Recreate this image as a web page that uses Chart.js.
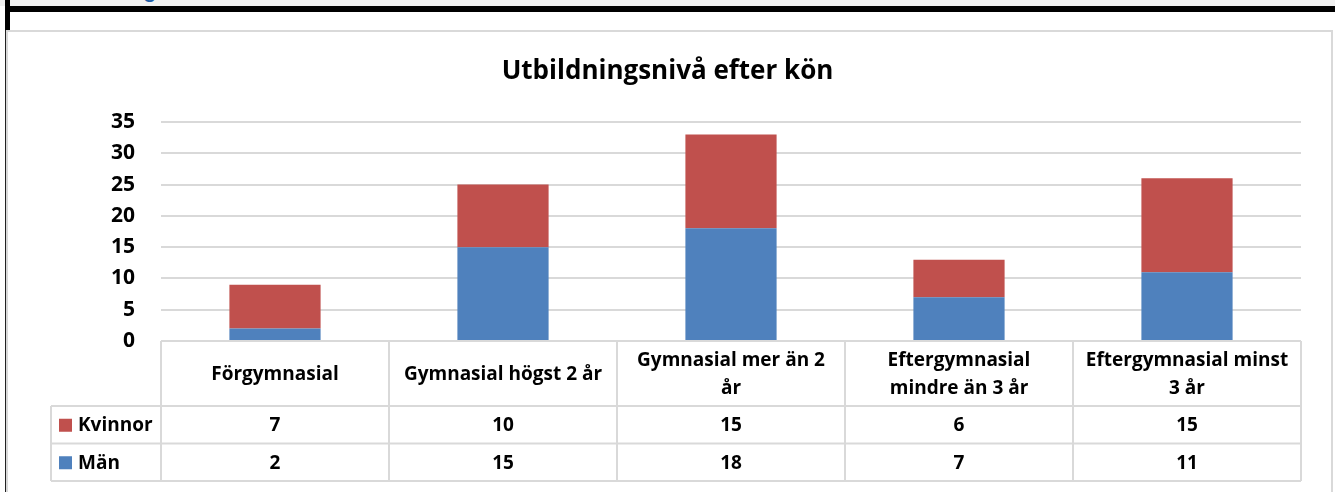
<!DOCTYPE html>
<html>
<head>
<meta charset="utf-8">
<script src="https://cdn.jsdelivr.net/npm/chart.js@4.4.1/dist/chart.umd.min.js"></script>
<style>
  html, body { margin: 0; padding: 0; background: #fff; }
  #page { position: relative; width: 1335px; height: 492px; overflow: hidden; }
  .strip { position: absolute; left: 0; top: 0; width: 1335px; height: 6px; background: #f0f0f0; overflow: hidden; }
  .strip span { position: absolute; left: 62px; top: -22px; font: bold 20px Lato, sans-serif; color: #1f5fa8; }
  .topline { position: absolute; left: 5px; top: 6px; width: 1330px; height: 6px; background: #000; }
  .leftbar { position: absolute; left: 5px; top: 0; width: 5px; height: 30px; background: #000; }
  .leftline { position: absolute; left: 5px; top: 30px; width: 1px; height: 462px; background: #222; }
  .box { position: absolute; left: 6px; top: 30px; width: 1323px; height: 470px; border: 2px solid #d9d9d9; background: #fff; }
  canvas { position: absolute; left: 0; top: 0; }
</style>
</head>
<body>
<div id="page">
  <div class="strip"><span>Utbildning</span></div>
  <div class="topline"></div>
  <div class="leftbar"></div>
  <div class="leftline"></div>
  <div class="box"></div>
  <canvas id="chart" width="1335" height="492"></canvas>
</div>
<script>
// ── Data ──────────────────────────────────────────────
const chartTitle = 'Utbildningsnivå efter kön';
const categories = [
  ['Förgymnasial'],
  ['Gymnasial högst 2 år'],
  ['Gymnasial mer än 2', 'år'],
  ['Eftergymnasial', 'mindre än 3 år'],
  ['Eftergymnasial minst', '3 år'],
];
const kvinnor = [7, 10, 15, 6, 15];
const man = [2, 15, 18, 7, 11];
const yMax = 35;
const yStep = 5;

const RED = '#c0504d';
const BLUE = '#4f81bd';
const GRID = '#d9d9d9';
const FONT = '"Open Sans", "Noto Sans", sans-serif';

// rows of the data table, top to bottom
const tableRows = [
  { label: 'Kvinnor', color: RED, values: kvinnor },
  { label: 'Män', color: BLUE, values: man },
];

// ── Title + data table under the plot ─────────────────
const tablePlugin = {
  id: 'dataTable',
  afterDraw(chart) {
    const { ctx, chartArea, scales } = chart;
    const x = scales.x;
    const colW = (chartArea.right - chartArea.left) / categories.length;
    const top = chartArea.bottom;
    const headH = 65, rowH = 37.5;
    const legendLeft = 51;
    const tableBottom = top + headH + rowH * tableRows.length;

    ctx.save();
    // title
    ctx.fillStyle = '#000';
    ctx.font = 'bold 26px ' + FONT;
    ctx.textAlign = 'center';
    ctx.textBaseline = 'middle';
    ctx.fillText(chartTitle, chart.width / 2, 72);

    // grid lines of the table
    ctx.strokeStyle = GRID;
    ctx.lineWidth = 2;
    ctx.beginPath();
    ctx.moveTo(chartArea.left, top);
    ctx.lineTo(chartArea.right, top);
    for (let r = 0; r <= tableRows.length; r++) {
      const y = top + headH + rowH * r;
      ctx.moveTo(legendLeft, y);
      ctx.lineTo(chartArea.right, y);
    }
    for (let c = 0; c <= categories.length; c++) {
      const cx = chartArea.left + colW * c;
      ctx.moveTo(cx, top);
      ctx.lineTo(cx, tableBottom);
    }
    ctx.moveTo(legendLeft, top + headH);
    ctx.lineTo(legendLeft, tableBottom);
    ctx.stroke();

    // category headers
    ctx.fillStyle = '#000';
    ctx.font = 'bold 19px ' + FONT;
    const lineH = 28;
    categories.forEach((lines, i) => {
      const cx = x.getPixelForValue(i);
      const cy = top + headH / 2 + 1;
      lines.forEach((ln, k) => {
        ctx.fillText(ln, cx, cy + (k - (lines.length - 1) / 2) * lineH);
      });
    });

    // value rows
    tableRows.forEach((row, r) => {
      const cy = top + headH + rowH * r + rowH / 2 + 1;
      ctx.fillStyle = row.color;
      ctx.fillRect(59, cy - 7, 13, 13);
      ctx.fillStyle = '#000';
      ctx.textAlign = 'left';
      ctx.fillText(row.label, 78, cy);
      ctx.textAlign = 'center';
      row.values.forEach((v, i) => {
        ctx.fillText(String(v), x.getPixelForValue(i), cy);
      });
    });
    ctx.restore();
  },
};

new Chart(document.getElementById('chart'), {
  type: 'bar',
  data: {
    labels: categories.map(c => c.join(' ')),
    datasets: [
      { label: 'Män', data: man, backgroundColor: BLUE },
      { label: 'Kvinnor', data: kvinnor, backgroundColor: RED },
    ],
  },
  options: {
    responsive: false,
    animation: false,
    layout: { padding: { top: 122, right: 34, bottom: 151, left: 0 } },
    plugins: {
      legend: { display: false },
      title: { display: false },
      tooltip: { enabled: false },
    },
    datasets: { bar: { categoryPercentage: 1, barPercentage: 0.4 } },
    scales: {
      x: {
        stacked: true,
        display: false,
      },
      y: {
        stacked: true,
        min: 0,
        max: yMax,
        ticks: {
          stepSize: yStep,
          color: '#000',
          padding: 26,
          font: { family: FONT, size: 21, weight: 'bold' },
        },
        grid: { color: GRID, lineWidth: 2, drawTicks: false },
        border: { display: false },
        afterFit(scale) { scale.width = 161; },
      },
    },
  },
  plugins: [tablePlugin],
});
</script>
</body>
</html>
